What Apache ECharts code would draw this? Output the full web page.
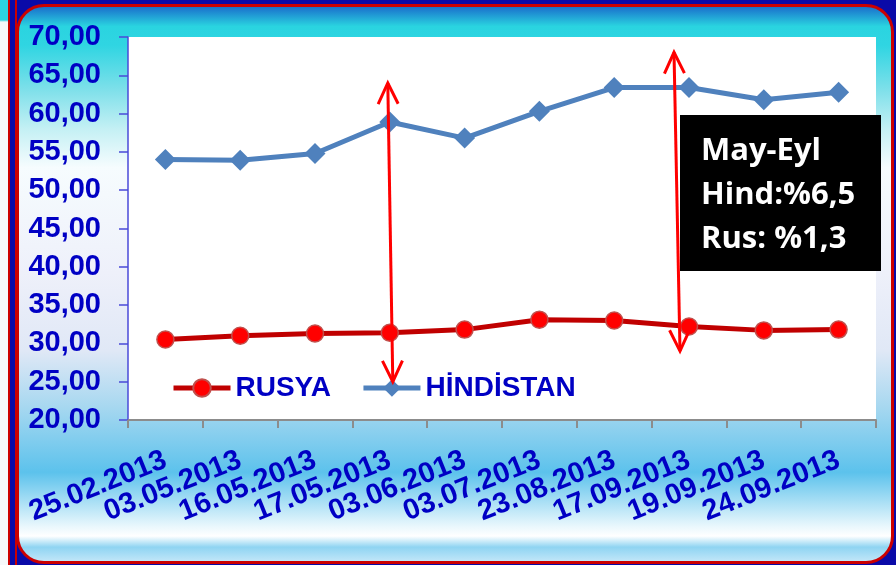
<!DOCTYPE html>
<html>
<head>
<meta charset="utf-8">
<script src="https://cdn.jsdelivr.net/npm/echarts@6/dist/echarts.min.js"></script>
<style>
  body { margin: 0; width: 896px; height: 565px; background: #0a0aa8; position: relative; overflow: hidden; }
  #side { position: absolute; left: 0; top: 0; width: 8px; height: 565px;
          background: linear-gradient(to bottom, #2ad4e0 0px, #2ad4e0 20px, #f6f8fa 22px, #f6f8fa 100%); }
  #sideLine { position: absolute; left: 8px; top: 0; width: 5px; height: 565px;
              border-left: 2px solid #cc0000; border-right: 2px solid #cc0000; background: #0a0aa8; }
  #frame { position: absolute; left: 16px; top: 4px; width: 872px; height: 554px;
           border: 3px solid #cc0000; border-radius: 28px;
           background: linear-gradient(to bottom,
             #1a70cc 0%, #2ad4e0 3.5%, #30d5e2 7%, #7fe0ea 15%, #c4f0f4 22%, #f6fcfe 29%,
             #eef0fa 48%, #e0e8f6 62%, #a8d8f0 72%, #5cc2ec 84%, #e6f6fc 93.5%,
             #ffffff 95.5%, #8fd4f2 97.5%, #c0e6f8 100%); }
  #main { position: absolute; left: 0; top: 0; width: 896px; height: 565px; }
</style>
</head>
<body>
<div id="side"></div>
<div id="sideLine"></div>
<div id="frame"></div>
<div id="main"></div>
<script>
// tarihler ve seriler
var dates = ['25.02.2013', '03.05.2013', '16.05.2013', '17.05.2013', '03.06.2013',
             '03.07.2013', '23.08.2013', '17.09.2013', '19.09.2013', '24.09.2013'];
var rusya = [30.5, 31.0, 31.3, 31.4, 31.8, 33.1, 33.0, 32.2, 31.7, 31.8];
var hindistan = [54.0, 53.9, 54.8, 58.9, 56.8, 60.3, 63.4, 63.4, 61.8, 62.8];
var noteLines = ['May-Eyl', 'Hind:%6,5', 'Rus: %1,3'];

var blue = '#0000c4';
var chart = echarts.init(document.getElementById('main'), null, { renderer: 'canvas' });

var option = {
  animation: false,
  backgroundColor: 'transparent',
  grid: {
    left: 128, top: 37, right: 20, bottom: 145,
    show: true, backgroundColor: '#ffffff', borderWidth: 0
  },
  legend: {
    left: 166, top: 369,
    itemWidth: 57, itemHeight: 22, itemGap: 30,
    lineStyle: { width: 5 },
    textStyle: { color: blue, fontSize: 28, fontWeight: 'bold', fontFamily: 'Liberation Sans, Arial' },
    data: ['RUSYA', 'HİNDİSTAN']
  },
  xAxis: {
    type: 'category',
    data: dates,
    boundaryGap: true,
    axisLine: { lineStyle: { color: '#8c8c8c', width: 2 } },
    axisTick: { show: true, length: 8, lineStyle: { color: '#8c8c8c', width: 2 } },
    axisLabel: {
      rotate: 22, margin: 39, interval: 0,
      color: blue, fontSize: 29, fontWeight: 'bold', fontFamily: 'Liberation Sans, Arial'
    }
  },
  yAxis: {
    type: 'value',
    min: 20, max: 70, interval: 5,
    splitLine: { show: false },
    axisLine: { show: true, lineStyle: { color: '#4a4ad8', width: 1.5 } },
    axisTick: { show: true, length: 9, lineStyle: { color: '#4a4ad8', width: 1.5 } },
    axisLabel: {
      margin: 27,
      color: blue, fontSize: 29, fontWeight: 'bold', fontFamily: 'Liberation Sans, Arial',
      formatter: function (v) { return v.toFixed(2).replace('.', ','); }
    }
  },
  series: [
    {
      name: 'RUSYA', type: 'line', data: rusya,
      symbol: 'circle', symbolSize: 17,
      lineStyle: { color: '#c00000', width: 5 },
      itemStyle: { color: '#ff0000', borderColor: '#c0504d', borderWidth: 1.5 },
      z: 3
    },
    {
      name: 'HİNDİSTAN', type: 'line', data: hindistan,
      symbol: 'diamond', symbolSize: [21, 21],
      lineStyle: { color: '#4f81bd', width: 5 },
      itemStyle: { color: '#4f81bd' },
      z: 3
    }
  ]
};
chart.setOption(option);

// iki yonlu oklar: [kategori, deger, x kaymasi] bas ve son
var arrows = [
  [[3, 64, -2], [3, 25, 3]],
  [[7, 68, -15], [7, 29, -9]]
];

function px(p) {
  var q = chart.convertToPixel({ xAxisIndex: 0, yAxisIndex: 0 }, [p[0], p[1]]);
  return [q[0] + p[2], q[1]];
}

var graphics = [];
arrows.forEach(function (a) {
  var s = px(a[0]), e = px(a[1]);
  var dx = e[0] - s[0], dy = e[1] - s[1];
  var len = Math.sqrt(dx * dx + dy * dy);
  var ux = dx / len, uy = dy / len;
  var hl = 21, hw = 10;
  function head(tip, dir) {
    var bx = tip[0] + dir * ux * hl, by = tip[1] + dir * uy * hl;
    return [[bx - uy * hw, by + ux * hw], tip, [bx + uy * hw, by - ux * hw]];
  }
  graphics.push({ type: 'polyline', z: 20, shape: { points: [s, e] },
    style: { stroke: '#ff0000', lineWidth: 3, fill: null } });
  graphics.push({ type: 'polyline', z: 20, shape: { points: head(s, 1) },
    style: { stroke: '#ff0000', lineWidth: 3, fill: null } });
  graphics.push({ type: 'polyline', z: 20, shape: { points: head(e, -1) },
    style: { stroke: '#ff0000', lineWidth: 3, fill: null } });
});

// siyah not kutusu
graphics.push({ type: 'rect', z: 30, shape: { x: 680, y: 115, width: 201, height: 156 },
  style: { fill: '#000000' } });
noteLines.forEach(function (t, i) {
  graphics.push({ type: 'text', z: 31, x: 701, y: 151 + i * 44,
    style: { text: t, fill: '#ffffff', font: 'bold 31px "Open Sans", "Noto Sans", sans-serif',
      verticalAlign: 'middle', align: 'left' } });
});

chart.setOption({ graphic: graphics });
</script>
</body>
</html>
